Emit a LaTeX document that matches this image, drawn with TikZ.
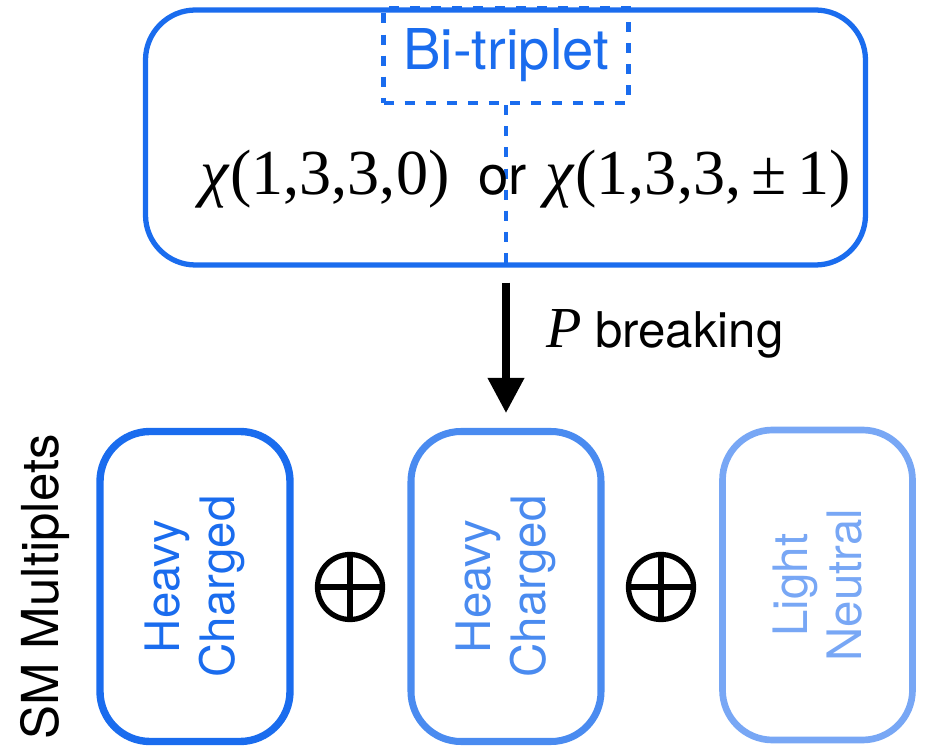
\documentclass[tikz,border=0pt]{standalone}
\usepackage{fontspec}
\setmainfont{Liberation Serif}
\setsansfont{TeX Gyre Heros}
\usetikzlibrary{arrows.meta}

\definecolor{blueA}{RGB}{26,108,238}
\definecolor{blueB}{RGB}{74,139,240}
\definecolor{blueC}{RGB}{120,167,245}

\begin{document}
\begin{tikzpicture}[
    topbox/.style={draw=blueA,line width=3pt,rounded corners=1cm,
      minimum width=14.4cm,minimum height=5.1cm},
    tagbox/.style={draw=blueA,line width=2.6pt,dash pattern=on 5.7pt off 6.3pt,
      minimum width=4.9cm,minimum height=1.9cm,text=blueA,
      font=\sffamily\fontsize{32}{36}\selectfont},
    multbox/.style={draw,rounded corners=1cm,rotate=90,align=center,
      minimum width=6.2cm,minimum height=3.8cm,
      font=\sffamily\fontsize{27}{31}\selectfont},
    oplus/.style={circle,draw,line width=3pt,minimum size=1.3cm,inner sep=0pt,
      path picture={\draw[line width=3pt]
        (path picture bounding box.north) -- (path picture bounding box.south)
        (path picture bounding box.east) -- (path picture bounding box.west);}},
    breakarrow/.style={line width=4pt,-{Triangle[width=20pt,length=20pt]},
      shorten <=0.3cm,shorten >=0.3cm}
  ]
  \useasboundingbox (0,0) rectangle (18.5,14.98);
  %\draw[very thin,gray,step=1] (0,0) grid (18.5,14.98);

  % bi-triplet
  \node[tagbox] (tag) at (10.12,13.87) {Bi-triplet};
  \node[topbox] (top) at (10.11,12.23) {};
  \draw[draw=blueA,line width=2.6pt,dash pattern=on 5.7pt off 6.3pt]
    (tag.south) -- (tag.south |- top.south);
  \node[anchor=base] (rep) at (10.52,11.08)
    {\fontsize{36.5}{42}\selectfont\textit{χ}(1,3,3,0)\hspace{0.45em}%
     {\sffamily\fontsize{31}{36}\selectfont or}\hspace{0.3em}%
     \textit{χ}(1,3,3,\,±\,1)};

  % SM multiplets
  \node[rotate=90,font=\sffamily\fontsize{29}{34}\selectfont] (sm) at (0.9,3.24)
    {SM Multiplets};
  \node[multbox,draw=blueA,line width=4.2pt,text=blueA] (hc1) at (3.9,3.25)
    {Heavy\\Charged};
  \node[oplus] (plus1) at (7.0,3.24) {};
  \node[multbox,draw=blueB,line width=4pt,text=blueB] (hc2) at (10.12,3.25)
    {Heavy\\Charged};
  \node[oplus] (plus2) at (13.22,3.24) {};
  \node[multbox,draw=blueC,line width=3.8pt,text=blueC] (ln) at (16.35,3.28)
    {Light\\Neutral};

  \draw[breakarrow] (top.south -| hc2.center) -- (hc2.east);
  \node[anchor=base west,font=\sffamily\fontsize{28}{32}\selectfont] (brk)
    at (10.8,8.02) {{\rmfamily\itshape\fontsize{33}{36}\selectfont P} breaking};
\end{tikzpicture}
\end{document}
